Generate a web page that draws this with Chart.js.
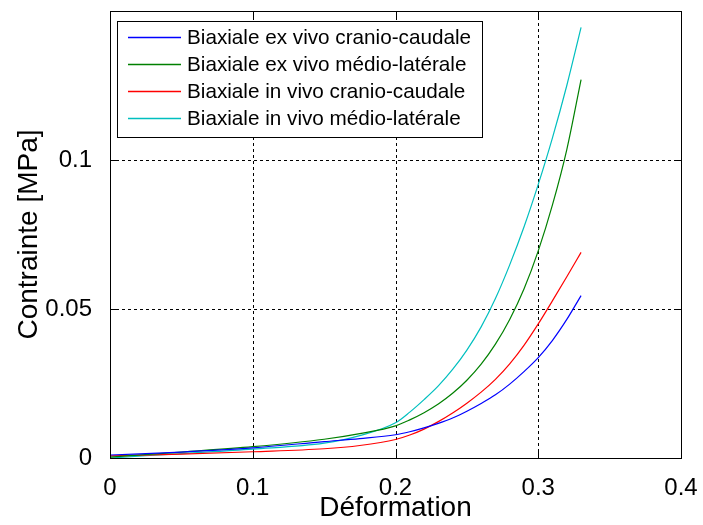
<!DOCTYPE html>
<html>
<head>
<meta charset="utf-8">
<script src="https://cdn.jsdelivr.net/npm/chart.js@4"></script>
<style>
  html, body { margin: 0; padding: 0; background: #fff; }
  #wrap { width: 703px; height: 525px; }
</style>
</head>
<body>
<div id="wrap"><canvas id="chart" width="703" height="525"></canvas></div>
<script>
// strain values (x) shared by all curves
const strain = [0, 0.05, 0.1, 0.15, 0.175, 0.2, 0.21, 0.22, 0.23, 0.24, 0.25, 0.26, 0.27, 0.28, 0.29, 0.3, 0.31, 0.32, 0.33];

// stress [MPa]
const exVivoCC = [0.001, 0.002, 0.0034, 0.0055, 0.0065, 0.0078, 0.0088, 0.0101, 0.0116, 0.0134, 0.0157, 0.0183, 0.0212, 0.0248, 0.029, 0.0337, 0.0395, 0.0465, 0.0545];
const exVivoML = [0.0003, 0.002, 0.0038, 0.0063, 0.0082, 0.0108, 0.0128, 0.0152, 0.0181, 0.0217, 0.0261, 0.0315, 0.0382, 0.0465, 0.0567, 0.0695, 0.085, 0.1035, 0.127];
const inVivoCC = [0.0007, 0.0013, 0.0021, 0.0031, 0.0042, 0.0062, 0.0077, 0.0097, 0.0122, 0.0151, 0.0184, 0.0221, 0.0264, 0.0316, 0.0378, 0.045, 0.0528, 0.0608, 0.069];
const inVivoML = [0, 0.0015, 0.003, 0.005, 0.0075, 0.0118, 0.0154, 0.0196, 0.0242, 0.0297, 0.0362, 0.044, 0.0535, 0.0648, 0.0775, 0.0918, 0.1075, 0.125, 0.1445];

const labels = [
  "Biaxiale ex vivo cranio-caudale",
  "Biaxiale ex vivo médio-latérale",
  "Biaxiale in vivo cranio-caudale",
  "Biaxiale in vivo médio-latérale"
];
const colors = ["#0000ff", "#008000", "#ff0000", "#00bfbf"];

const xTicks = [0, 0.1, 0.2, 0.3, 0.4];
const yTicks = [0, 0.05, 0.1];

const FONT = "'Liberation Sans', Arial, sans-serif";

function toPoints(ys) {
  return strain.map((x, i) => ({x: x, y: ys[i]}));
}

// dashed grid, box, inward ticks and the inset legend, MATLAB style
const matlabFrame = {
  id: 'matlabFrame',
  beforeDatasetsDraw(chart) {
    const {ctx, chartArea: a, scales: {x, y}} = chart;
    ctx.save();
    ctx.strokeStyle = '#000';
    ctx.lineWidth = 1;
    ctx.setLineDash([3, 3]);
    xTicks.forEach(v => {
      const px = Math.round(x.getPixelForValue(v)) + 0.5;
      if (px <= a.left + 1 || px >= a.right - 1) return;
      ctx.beginPath(); ctx.moveTo(px, a.top); ctx.lineTo(px, a.bottom); ctx.stroke();
    });
    yTicks.forEach(v => {
      const py = Math.round(y.getPixelForValue(v)) + 0.5;
      if (py <= a.top + 1 || py >= a.bottom - 1) return;
      ctx.beginPath(); ctx.moveTo(a.left, py); ctx.lineTo(a.right, py); ctx.stroke();
    });
    ctx.restore();
  },
  afterDatasetsDraw(chart) {
    const {ctx, chartArea: a, scales: {x, y}} = chart;
    const L = Math.round(a.left) + 0.5, R = Math.round(a.right) + 0.5;
    const T = Math.round(a.top) + 0.5, B = Math.round(a.bottom) + 0.5;
    ctx.save();
    ctx.strokeStyle = '#000';
    ctx.lineWidth = 1;
    ctx.setLineDash([]);
    ctx.strokeRect(L, T, R - L, B - T);
    const tl = 7;
    xTicks.forEach(v => {
      const px = Math.round(x.getPixelForValue(v)) + 0.5;
      ctx.beginPath();
      ctx.moveTo(px, B); ctx.lineTo(px, B - tl);
      ctx.moveTo(px, T); ctx.lineTo(px, T + tl);
      ctx.stroke();
    });
    yTicks.forEach(v => {
      const py = Math.round(y.getPixelForValue(v)) + 0.5;
      ctx.beginPath();
      ctx.moveTo(L, py); ctx.lineTo(L + tl, py);
      ctx.moveTo(R, py); ctx.lineTo(R - tl, py);
      ctx.stroke();
    });

    // legend box
    const bx = 117.5, by = 21.5, bw = 365, bh = 116;
    ctx.fillStyle = '#fff';
    ctx.fillRect(bx, by, bw, bh);
    ctx.strokeStyle = '#000';
    ctx.strokeRect(bx, by, bw, bh);
    ctx.font = '20.7px ' + FONT;
    ctx.textBaseline = 'middle';
    ctx.textAlign = 'left';
    chart.data.datasets.forEach((ds, i) => {
      const cy = 37 + i * 27;
      ctx.beginPath();
      ctx.strokeStyle = colors[i];
      ctx.lineWidth = 1.3;
      ctx.moveTo(128, cy + 0.5);
      ctx.lineTo(181, cy + 0.5);
      ctx.stroke();
      ctx.fillStyle = '#000';
      ctx.fillText(ds.label, 187, cy + 1);
    });
    ctx.restore();
  }
};

new Chart(document.getElementById('chart'), {
  type: 'line',
  data: {
    datasets: [exVivoCC, exVivoML, inVivoCC, inVivoML].map((s, i) => ({
      label: labels[i],
      data: toPoints(s),
      borderColor: colors[i],
      borderWidth: 1.2,
      pointRadius: 0,
      fill: false,
      cubicInterpolationMode: 'monotone'
    }))
  },
  options: {
    responsive: false,
    animation: false,
    events: [],
    layout: { padding: { top: 11, right: 22, left: 0, bottom: 0 } },
    plugins: {
      legend: { display: false },
      tooltip: { enabled: false }
    },
    scales: {
      x: {
        type: 'linear',
        min: 0,
        max: 0.4,
        afterBuildTicks(scale) { scale.ticks = xTicks.map(v => ({value: v})); },
        afterFit(scale) {
          scale.height = 67;
          scale.paddingLeft = 0;
          scale.paddingRight = 0;
        },
        grid: { display: false },
        border: { display: false },
        ticks: {
          color: '#000',
          padding: 8,
          maxRotation: 0,
          font: { family: FONT, size: 24 },
          callback: v => String(v)
        },
        title: {
          display: true,
          text: 'Déformation',
          color: '#000',
          padding: { top: 0, bottom: 0 },
          font: { family: FONT, size: 28 }
        }
      },
      y: {
        type: 'linear',
        min: 0,
        max: 0.15,
        afterBuildTicks(scale) { scale.ticks = yTicks.map(v => ({value: v})); },
        afterFit(scale) {
          scale.width = 110;
          scale.paddingTop = 0;
          scale.paddingBottom = 0;
        },
        grid: { display: false },
        border: { display: false },
        ticks: {
          color: '#000',
          padding: 10,
          font: { family: FONT, size: 24 },
          callback: v => String(v)
        },
        title: {
          display: true,
          text: 'Contrainte [MPa]',
          color: '#000',
          padding: { top: 12, bottom: 0 },
          font: { family: FONT, size: 28 }
        }
      }
    }
  },
  plugins: [matlabFrame]
});
</script>
</body>
</html>
